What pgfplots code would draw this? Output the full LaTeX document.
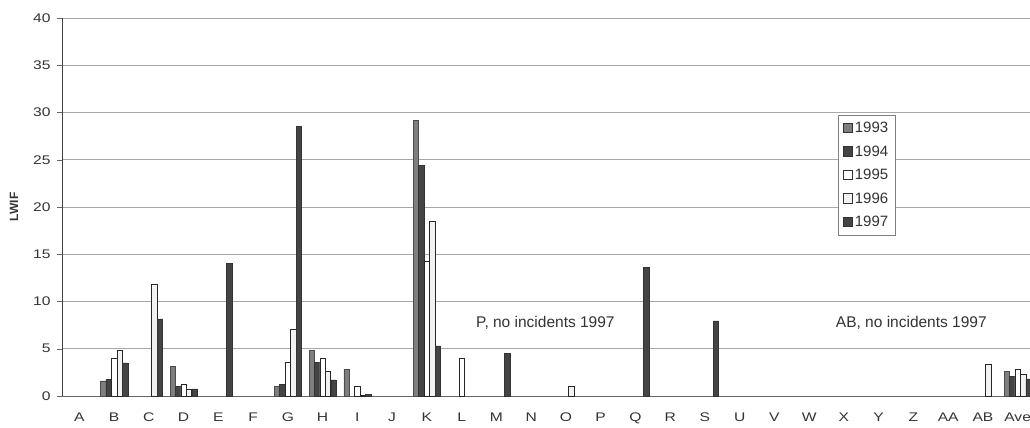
\documentclass[border=0pt]{standalone}
\usepackage{fontspec}
\setmainfont{Liberation Sans}
\newfontfamily\tickfont[FakeStretch=1.25]{Liberation Sans}
\newcommand{\tf}{\tickfont\fontsize{12.5}{12.5}\selectfont}
\usepackage{pgfplots}
\pgfplotsset{compat=1.18}
\definecolor{dk}{HTML}{444444}
\definecolor{hat}{HTML}{7E7E7E}
\definecolor{lt}{HTML}{F2F2F2}
\definecolor{gridc}{HTML}{A8A8A8}
\begin{document}
\begin{tikzpicture}
\begin{axis}[
  scale only axis,
  width=968pt, height=378pt,
  xmin=-0.5, xmax=27.355,
  ymin=0, ymax=40,
  ytick={0,5,...,40},
  xtick={0,...,27},
  xticklabels={\tf A,\tf B,\tf C,\tf D,\tf E,\tf F,\tf G,\tf H,\tf I,\tf J,\tf K,\tf L,\tf M,\tf N,\tf O,\tf P,\tf Q,\tf R,\tf S,\tf U,\tf V,\tf W,\tf X,\tf Y,\tf Z,\tf AA,\tf AB,\tf Ave},
  yticklabel={\tf\pgfmathprintnumber{\tick}},
  axis x line*=bottom, axis y line*=left,
  x axis line style={draw=black!60, line width=0.8pt},
  y axis line style={draw=black!75, line width=0.8pt},
  ymajorgrids, grid style={gridc, line width=0.7pt},
  tick style={draw=black!60},
  xtick style={draw=none},
  ytick align=outside, major tick length=5pt,
  /pgf/number format/assume math mode=true,
  tick label style={text=black!80},
  yticklabel style={xshift=-3pt},
  xticklabel style={yshift=-8pt},
  ylabel={\bfseries\fontsize{12}{12}\selectfont LWIF},
  ylabel style={at={(axis description cs:-0.0496,0.5)}, anchor=center, text=black!80},
  ybar=0pt, bar width=5.45pt,
  legend style={at={(rel axis cs:0.8017,0.7434)}, anchor=north west, draw=black!50, line width=0.5pt,
    font=\fontsize{15}{15}\selectfont, text=black!80, row sep=7.5pt, inner xsep=4.5pt, inner ysep=5pt, cells={anchor=west}},
  legend image code/.code={\draw[#1, draw=black!80, line width=0.6pt] (0pt,-4.5pt) rectangle (9.5pt,5pt);},
  clip=true,
]
\addplot[fill=hat, draw=black!70, line width=0.5pt] coordinates {(1,1.6) (3,3.1) (6,1.05) (7,4.85) (8,2.85) (10,29.2) (27,2.6)};
\addplot[fill=dk, draw=black!80, line width=0.5pt] coordinates {(1,1.75) (3,1.05) (6,1.25) (7,3.55) (10,24.4) (27,2.05)};
\addplot[fill=white, draw=black!85, line width=0.7pt] coordinates {(1,4.0) (3,1.2) (6,3.55) (7,4.0) (8,1.05) (10,14.2) (11,4.0) (27,2.8)};
\addplot[fill=lt, draw=black!85, line width=0.7pt] coordinates {(1,4.85) (2,11.8) (3,0.75) (6,7.05) (7,2.65) (8,0.1) (10,18.45) (14,1.0) (26,3.4) (27,2.3)};
\addplot[fill=dk, draw=black!80, line width=0.5pt] coordinates {(1,3.5) (2,8.15) (3,0.75) (4,14.0) (6,28.5) (7,1.7) (8,0.15) (10,5.3) (12,4.5) (16,13.6) (18,7.95) (27,1.8)};
\legend{1993,1994,1995,1996,1997}
\node[anchor=base, font=\fontsize{15.5}{15.5}\selectfont, text=black!80] at (axis cs:13.41,7.2) {P, no incidents 1997};
\node[anchor=base, font=\fontsize{15.5}{15.5}\selectfont, text=black!80] at (axis cs:23.94,7.2) {AB, no incidents 1997};
\end{axis}
\pgfresetboundingbox
\path ([shift={(-62pt,-32pt)}]current axis.south west) rectangle ([shift={(0pt,18pt)}]current axis.north east);
\end{tikzpicture}
\end{document}
